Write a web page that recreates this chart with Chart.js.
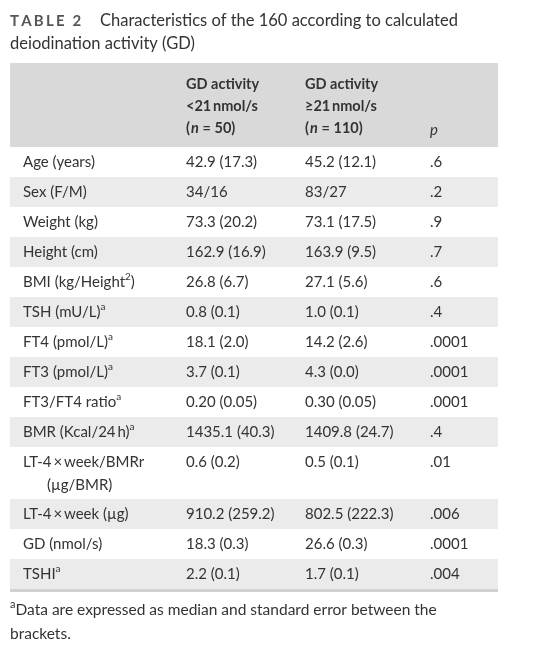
<!DOCTYPE html>
<html><head><meta charset="utf-8">
<script src="https://cdn.jsdelivr.net/npm/chart.js@4/dist/chart.umd.min.js"></script>
<style>html,body{margin:0;padding:0;background:#fff}#wrap{width:556px;height:646px}</style>
</head><body><div id="wrap"><canvas id="c"></canvas></div>
<script>
const titleLines = ["Characteristics of the 160 according to calculated", "deiodination activity (GD)"];
const headers = [["GD activity", "<21\u2009nmol/s", "(n = 50)"], ["GD activity", "\u226521\u2009nmol/s", "(n = 110)"]];
const rowLabels = ["Age (years)", "Sex (F/M)", "Weight (kg)", "Height (cm)", "BMI (kg/Height^2)", "TSH (mU/L)^a", "FT4 (pmol/L)^a", "FT3 (pmol/L)^a", "FT3/FT4 ratio^a", "BMR (Kcal/24\u2009h)^a", "LT-4\u2009\u00d7\u2009week/BMRr|(\u00b5g/BMR)", "LT-4\u2009\u00d7\u2009week (\u00b5g)", "GD (nmol/s)", "TSHI^a"];
const group1 = ["42.9 (17.3)", "34/16", "73.3 (20.2)", "162.9 (16.9)", "26.8 (6.7)", "0.8 (0.1)", "18.1 (2.0)", "3.7 (0.1)", "0.20 (0.05)", "1435.1 (40.3)", "0.6 (0.2)", "910.2 (259.2)", "18.3 (0.3)", "2.2 (0.1)"];
const group2 = ["45.2 (12.1)", "83/27", "73.1 (17.5)", "163.9 (9.5)", "27.1 (5.6)", "1.0 (0.1)", "14.2 (2.6)", "4.3 (0.0)", "0.30 (0.05)", "1409.8 (24.7)", "0.5 (0.1)", "802.5 (222.3)", "26.6 (0.3)", "1.7 (0.1)"];
const pValues = [".6", ".2", ".9", ".7", ".6", ".4", ".0001", ".0001", ".0001", ".4", ".01", ".006", ".0001", ".004"];
const footnote = ["^aData are expressed as median and standard error between the", "brackets."];

const F = "Lato, 'Open Sans', sans-serif";
function rich(ctx, s, x, y, size, color, weight) {
  const parts = s.split(/(\^.)/);
  let cx = x;
  for (const p of parts) {
    if (!p) continue;
    if (p[0] === '^') {
      ctx.font = `${weight||''} ${Math.round(size*0.68)}px ${F}`;
      ctx.fillStyle = color; ctx.fillText(p[1], cx, y - size*0.38);
      cx += ctx.measureText(p[1]).width;
    } else {
      ctx.font = `${weight||''} ${size}px ${F}`;
      ctx.fillStyle = color; ctx.fillText(p, cx, y);
      cx += ctx.measureText(p).width;
    }
  }
}
const tablePlugin = {
  id: 'table',
  afterDraw(chart) {
    const ctx = chart.ctx; ctx.save(); ctx.textBaseline = 'middle';
    ctx.font = `bold 15px ${F}`; ctx.fillStyle = '#555';
    let tx = 10; for (const ch of "TABLE 2") { ctx.fillText(ch, tx, 21); tx += ctx.measureText(ch).width + 2.2; }
    rich(ctx, titleLines[0], 100, 21, 16.5, '#333');
    rich(ctx, titleLines[1], 10, 44, 16.5, '#333');
    const L = 10, R = 498, X = [23, 186, 305, 430];
    ctx.fillStyle = '#d9d9d9'; ctx.fillRect(L, 63, R - L, 84);
    headers.forEach((h, i) => {
      ctx.fillStyle = '#333'; ctx.font = `bold 14.5px ${F}`;
      ctx.fillText(h[0], X[i+1], 84); ctx.fillText(h[1], X[i+1], 106);
      ctx.font = `italic bold 14.5px ${F}`; ctx.fillText('n', X[i+1]+5, 128);
      const w0 = ctx.measureText('(').width;
      ctx.font = `bold 14.5px ${F}`;
      ctx.fillText('(', X[i+1], 128);
      ctx.fillText(h[2].slice(2), X[i+1] + w0 + ctx.measureText('n').width + 1, 128);
    });
    ctx.font = `italic 15px ${F}`; ctx.fillText('p', X[3], 130);
    let y = 147;
    rowLabels.forEach((lab, i) => {
      const lines = lab.split('|');
      const h = lines.length > 1 ? 52 : 30;
      if (i % 2 === 1) { ctx.fillStyle = '#ebebeb'; ctx.fillRect(L, y, R - L, h); }
      const ty = y + 15;
      rich(ctx, lines[0], X[0], ty, 15, '#333');
      if (lines[1]) rich(ctx, lines[1], 47, ty + 23, 15, '#333');
      rich(ctx, group1[i], X[1], ty, 15, '#333');
      rich(ctx, group2[i], X[2], ty, 15, '#333');
      rich(ctx, pValues[i], X[3], ty, 15, '#333');
      y += h;
    });
    ctx.fillStyle = '#d0d0d0'; ctx.fillRect(L, y, R - L, 3);
    rich(ctx, footnote[0], 10, 610, 15.5, '#333');
    rich(ctx, footnote[1], 10, 634, 15.5, '#333');
    ctx.restore();
  }
};
new Chart(document.getElementById('c'), {
  type: 'bar',
  data: { labels: rowLabels, datasets: [{ data: [], backgroundColor: 'rgba(0,0,0,0)' }] },
  options: { responsive: true, maintainAspectRatio: false, animation: false,
    plugins: { legend: { display: false }, tooltip: { enabled: false } },
    scales: { x: { display: false }, y: { display: false } } },
  plugins: [tablePlugin]
});
</script></body></html>
